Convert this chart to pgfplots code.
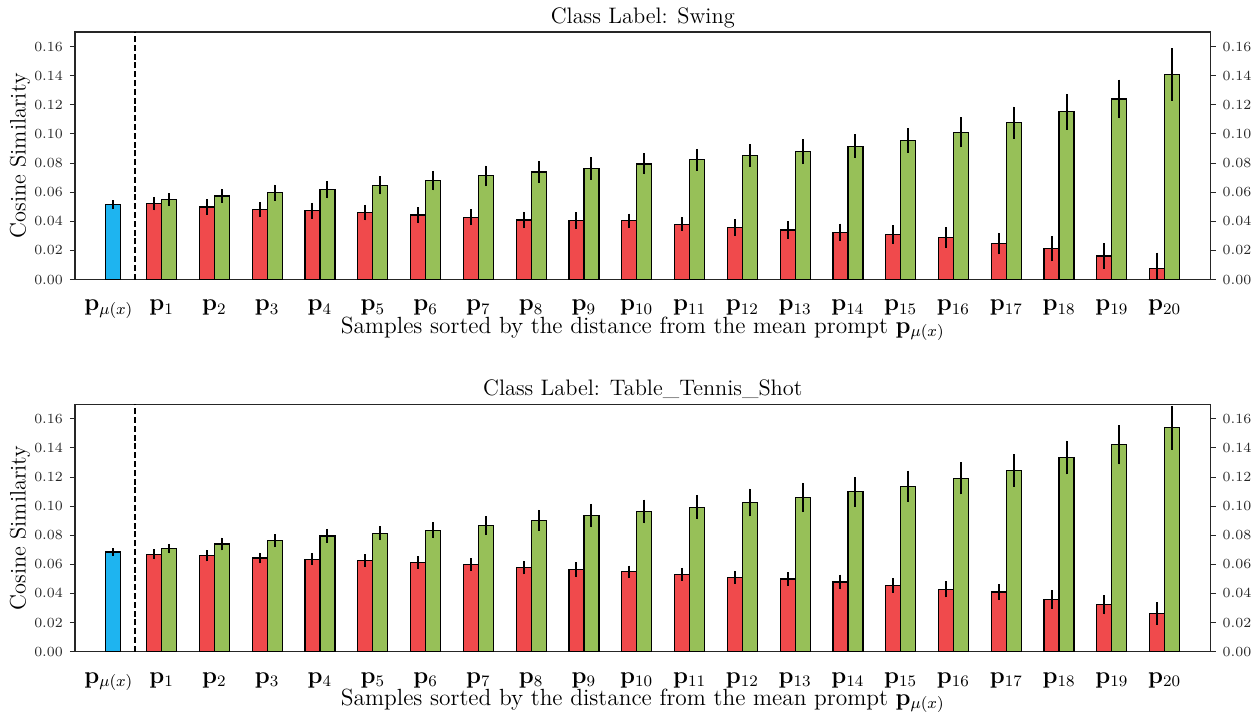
\documentclass[border=0pt]{standalone}
\usepackage{pgfplots}
\pgfplotsset{compat=1.18}
\usepackage{pgfplotstable}
\definecolor{cred}{RGB}{240,74,76}
\definecolor{cgreen}{RGB}{151,192,88}
\definecolor{cblue}{RGB}{30,180,240}

\pgfplotstableread{
x r re g ge
1 0.0521 0.0046 0.0549 0.0045
2 0.0498 0.0053 0.0574 0.0048
3 0.0480 0.0052 0.0597 0.0055
4 0.0473 0.0054 0.0618 0.0060
5 0.0459 0.0053 0.0647 0.0062
6 0.0443 0.0055 0.0680 0.0067
7 0.0427 0.0054 0.0712 0.0071
8 0.0409 0.0056 0.0739 0.0076
9 0.0406 0.0056 0.0762 0.0077
10 0.0404 0.0049 0.0794 0.0072
11 0.0379 0.0047 0.0822 0.0075
12 0.0358 0.0056 0.0852 0.0077
13 0.0340 0.0059 0.0877 0.0085
14 0.0324 0.0060 0.0916 0.0083
15 0.0308 0.0065 0.0955 0.0085
16 0.0287 0.0071 0.1012 0.0103
17 0.0248 0.0073 0.1077 0.0111
18 0.0211 0.0086 0.1152 0.0123
19 0.0161 0.0088 0.1240 0.0133
20 0.0078 0.0107 0.1407 0.0180
}\topdata

\pgfplotstableread{
x r re g ge
1 0.0669 0.0034 0.0708 0.0033
2 0.0660 0.0040 0.0740 0.0044
3 0.0644 0.0037 0.0763 0.0044
4 0.0635 0.0041 0.0795 0.0048
5 0.0626 0.0043 0.0814 0.0048
6 0.0612 0.0043 0.0834 0.0056
7 0.0598 0.0045 0.0866 0.0065
8 0.0578 0.0046 0.0903 0.0072
9 0.0564 0.0052 0.0935 0.0081
10 0.0550 0.0041 0.0963 0.0081
11 0.0532 0.0043 0.0993 0.0084
12 0.0511 0.0044 0.1025 0.0096
13 0.0500 0.0046 0.1059 0.0101
14 0.0479 0.0050 0.1098 0.0101
15 0.0456 0.0050 0.1135 0.0108
16 0.0429 0.0055 0.1190 0.0110
17 0.0410 0.0053 0.1245 0.0112
18 0.0360 0.0064 0.1334 0.0116
19 0.0323 0.0066 0.1421 0.0135
20 0.0261 0.0079 0.1538 0.0150
}\botdata

\pgfplotsset{
  base/.style={
    scale only axis, width=567.8pt, height=123.75pt,
    xmin=-0.64, xmax=20.87, ymin=0, ymax=0.17,
    ytick={0,0.02,0.04,0.06,0.08,0.10,0.12,0.14,0.16},
    scaled y ticks=false,
    yticklabel style={/pgf/number format/fixed, /pgf/number format/fixed zerofill, /pgf/number format/precision=2, font=\fontsize{7.3}{8.5}\selectfont, text=black!85},
    tick align=outside, major tick length=2.5pt,
    tick style={black!85, line width=0.5pt},
    axis line style={black!85, line width=0.6pt},
  },
  panel/.style={
    base,
    ybar, bar width=0.284,
    ytick pos=left,
    xtick={0,...,20},
    xticklabels={$\mathbf{p}_{\mu(x)}$,$\mathbf{p}_{1}$,$\mathbf{p}_{2}$,$\mathbf{p}_{3}$,$\mathbf{p}_{4}$,$\mathbf{p}_{5}$,$\mathbf{p}_{6}$,$\mathbf{p}_{7}$,$\mathbf{p}_{8}$,$\mathbf{p}_{9}$,$\mathbf{p}_{10}$,$\mathbf{p}_{11}$,$\mathbf{p}_{12}$,$\mathbf{p}_{13}$,$\mathbf{p}_{14}$,$\mathbf{p}_{15}$,$\mathbf{p}_{16}$,$\mathbf{p}_{17}$,$\mathbf{p}_{18}$,$\mathbf{p}_{19}$,$\mathbf{p}_{20}$},
    xticklabel style={font=\fontsize{12}{14}\selectfont, anchor=base, inner sep=0pt, yshift=-13.2pt},
    major x tick style={draw=none},
    ylabel={Cosine Similarity},
    every axis y label/.style={at={(axis description cs:-0.0484,0.5)}, anchor=center, rotate=90, font=\fontsize{11.2}{13}\selectfont},
    xlabel={Samples sorted by the distance from the mean prompt $\mathbf{p}_{\mu(x)}$},
    every axis x label/.style={at={(axis description cs:0.5,0)}, anchor=base, inner sep=0pt, yshift=-26.75pt, font=\fontsize{11.7}{13}\selectfont},
    every axis title/.style={at={(axis description cs:0.5,1)}, anchor=base, yshift=4.3pt, font=\fontsize{11.2}{13}\selectfont},
    error bars/y dir=both, error bars/y explicit,
    error bars/error mark=none,
    error bars/error bar style={line width=1pt, black},
  },
  rightax/.style={
    base,
    axis x line=none, axis y line*=right,
  },
  barsty/.style={draw=black, line width=0.6pt, fill=#1},
}

\begin{document}
\begin{tikzpicture}
\useasboundingbox (-37.5pt,-219.75pt) rectangle (589.5pt,139.75pt);
% ---- top panel
\begin{axis}[panel, at={(0pt,0pt)}, anchor=south west, title={Class Label: Swing}]
\addplot[barsty=cblue, bar shift=0.075] coordinates {(0,0.0514) +- (0,0.0030)};
\addplot[barsty=cred, bar shift=-0.142] table[x=x, y=r, y error=re] {\topdata};
\addplot[barsty=cgreen, bar shift=0.142] table[x=x, y=g, y error=ge] {\topdata};
\draw[black, line width=0.8pt, dash pattern=on 3pt off 1.4pt] (axis cs:0.5,0) -- (axis cs:0.5,0.17);
\end{axis}
\begin{axis}[rightax, at={(0pt,0pt)}, anchor=south west]
\end{axis}
% ---- bottom panel
\begin{axis}[panel, at={(0pt,-186.1pt)}, anchor=south west, title={Class Label: Table\_Tennis\_Shot}]
\addplot[barsty=cblue, bar shift=0.075] coordinates {(0,0.0685) +- (0,0.0025)};
\addplot[barsty=cred, bar shift=-0.142] table[x=x, y=r, y error=re] {\botdata};
\addplot[barsty=cgreen, bar shift=0.142] table[x=x, y=g, y error=ge] {\botdata};
\draw[black, line width=0.8pt, dash pattern=on 3pt off 1.4pt] (axis cs:0.5,0) -- (axis cs:0.5,0.17);
\end{axis}
\begin{axis}[rightax, at={(0pt,-186.1pt)}, anchor=south west]
\end{axis}
\end{tikzpicture}
\end{document}
